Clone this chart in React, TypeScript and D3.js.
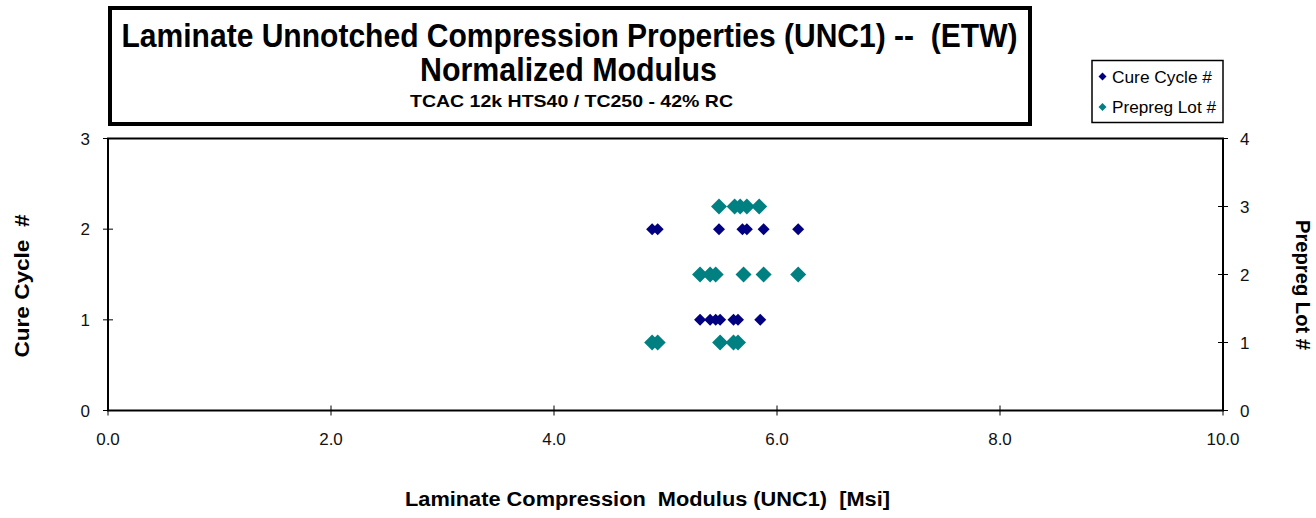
import React from "react";
import * as d3 from "d3";

const cureCycle1 = [5.31, 5.40, 5.45, 5.49, 5.61, 5.65, 5.85];
const cureCycle2 = [4.88, 4.93, 5.48, 5.69, 5.73, 5.88, 6.19];
const prepregLot1 = [4.88, 4.93, 5.49, 5.61, 5.65];
const prepregLot2 = [5.31, 5.40, 5.45, 5.70, 5.88, 6.19];
const prepregLot3 = [5.48, 5.62, 5.67, 5.73, 5.84];
const xTicks = [0, 2, 4, 6, 8, 10];
const leftTicks = [0, 1, 2, 3];
const rightTicks = [0, 1, 2, 3, 4];

const W = 1316;
const H = 518;
const L = 108, R = 1223, T = 138.5, B = 410.5;
const NAVY = "#000080";
const TEAL = "#008080";
const FONT = "'Liberation Sans', Arial, sans-serif";
const PRE = { whiteSpace: "pre" as const };

function diamond(cx: number, cy: number, r: number) {
  return `M${cx},${cy - r}L${cx + r},${cy}L${cx},${cy + r}L${cx - r},${cy}Z`;
}

export default function App() {
  const x = d3.scaleLinear().domain([0, 10]).range([L, R]);
  const yL = d3.scaleLinear().domain([0, 3]).range([B, T]);
  const yR = d3.scaleLinear().domain([0, 4]).range([B, T]);

  const cure = [
    ...cureCycle1.map((v) => ({ v, c: 1 })),
    ...cureCycle2.map((v) => ({ v, c: 2 })),
  ];
  const lots = [
    ...prepregLot1.map((v) => ({ v, c: 1 })),
    ...prepregLot2.map((v) => ({ v, c: 2 })),
    ...prepregLot3.map((v) => ({ v, c: 3 })),
  ];

  return (
    <svg
      width={W}
      height={H}
      style={{ position: "absolute", left: 0, top: 0, background: "#fff" }}
      fontFamily={FONT}
    >
      {/* title box */}
      <rect x={110} y={8} width={920} height={116} fill="#fff" stroke="#000" strokeWidth={4} />
      <text x={569.5} y={46.5} textAnchor="middle" fontSize={33} fontWeight="bold" style={PRE} textLength={896} lengthAdjust="spacingAndGlyphs">
        {"Laminate Unnotched Compression Properties (UNC1) --  (ETW)"}
      </text>
      <text x={568.5} y={80.5} textAnchor="middle" fontSize={33} fontWeight="bold" textLength={297} lengthAdjust="spacingAndGlyphs">
        Normalized Modulus
      </text>
      <text x={571.5} y={107} textAnchor="middle" fontSize={17} fontWeight="bold" textLength={323} lengthAdjust="spacingAndGlyphs">
        TCAC 12k HTS40 / TC250 - 42% RC
      </text>

      {/* legend */}
      <rect x={1092} y={60.5} width={131} height={62} fill="#fff" stroke="#000" strokeWidth={1.5} />
      <path d={diamond(1102.5, 76.5, 4)} fill={NAVY} />
      <text x={1112} y={83} fontSize={16.5} textLength={100} lengthAdjust="spacingAndGlyphs">Cure Cycle #</text>
      <path d={diamond(1102.5, 107, 4)} fill={TEAL} />
      <text x={1112} y={113} fontSize={16.5} textLength={104} lengthAdjust="spacingAndGlyphs">Prepreg Lot #</text>

      {/* plot frame */}
      <rect x={L} y={T} width={R - L} height={B - T} fill="none" stroke="#000" strokeWidth={2} />

      {/* x ticks */}
      {xTicks.map((t) => (
        <g key={"x" + t}>
          <line x1={x(t)} x2={x(t)} y1={B - 5} y2={B + 5} stroke="#000" strokeWidth={1} />
          <text x={x(t)} y={445} textAnchor="middle" fontSize={17} fill="#111">
            {d3.format(".1f")(t)}
          </text>
        </g>
      ))}
      {/* left ticks */}
      {leftTicks.map((t) => (
        <g key={"l" + t}>
          <line x1={L - 5} x2={L + 5} y1={yL(t)} y2={yL(t)} stroke="#000" strokeWidth={1} />
          <text x={90} y={yL(t) + 6} textAnchor="end" fontSize={17} fill="#111">{t}</text>
        </g>
      ))}
      {/* right ticks */}
      {rightTicks.map((t) => (
        <g key={"r" + t}>
          <line x1={R - 5} x2={R + 5} y1={yR(t)} y2={yR(t)} stroke="#000" strokeWidth={1} />
          <text x={1240} y={yR(t) + 6} textAnchor="start" fontSize={17} fill="#111">{t}</text>
        </g>
      ))}

      {/* axis titles */}
      <text x={647.5} y={506} textAnchor="middle" fontSize={19.5} fontWeight="bold" style={PRE} textLength={485} lengthAdjust="spacingAndGlyphs">
        {"Laminate Compression  Modulus (UNC1)  [Msi]"}
      </text>
      <text transform={`translate(29,286) rotate(-90)`} textAnchor="middle" fontSize={19.5} fontWeight="bold" style={PRE} textLength={143} lengthAdjust="spacingAndGlyphs">
        {"Cure Cycle  #"}
      </text>
      <text transform={`translate(1296,285) rotate(90)`} textAnchor="middle" fontSize={19.5} fontWeight="bold" textLength={130} lengthAdjust="spacingAndGlyphs">
        Prepreg Lot #
      </text>

      {/* data */}
      {lots.map((d, i) => (
        <path key={"p" + i} d={diamond(x(d.v), yR(d.c), 8)} fill={TEAL} />
      ))}
      {cure.map((d, i) => (
        <path key={"c" + i} d={diamond(x(d.v), yL(d.c), 6)} fill={NAVY} />
      ))}
    </svg>
  );
}
